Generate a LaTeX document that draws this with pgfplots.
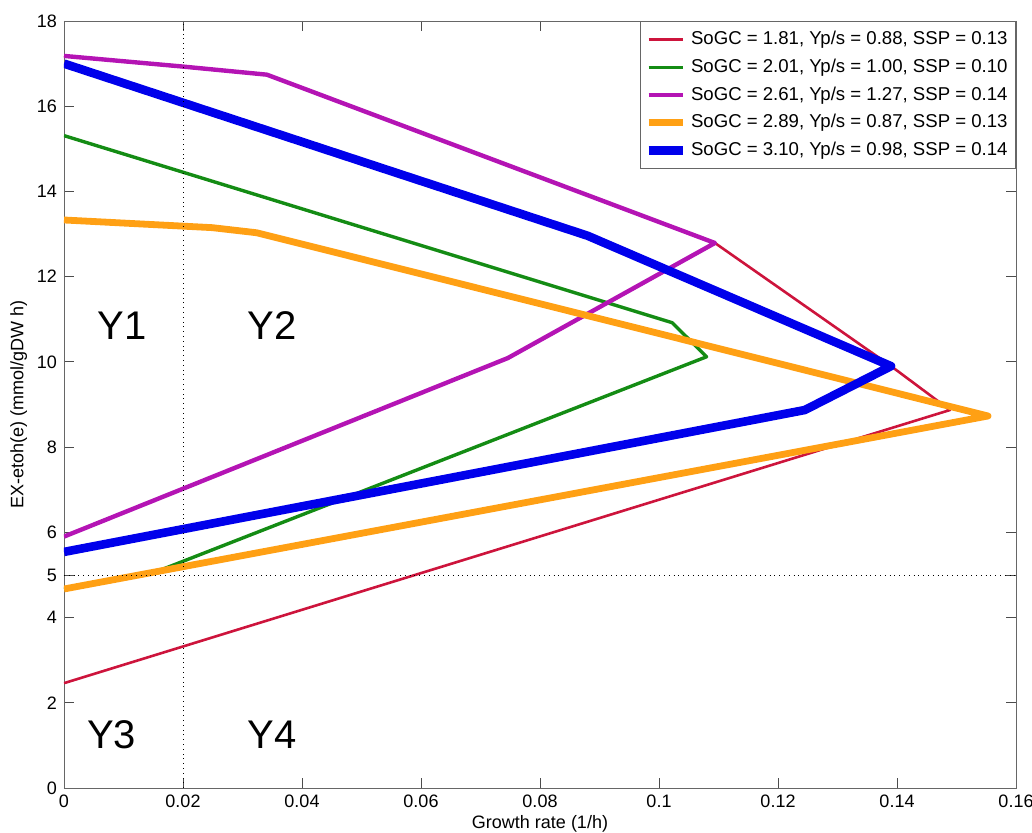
\documentclass[border=0pt]{standalone}
\usepackage{pgfplots}
\pgfplotsset{compat=1.18}
\usepackage{fontspec}
\setmainfont{Liberation Sans}
\definecolor{cred}{RGB}{205,20,60}
\definecolor{cgreen}{RGB}{20,140,20}
\definecolor{cpurple}{RGB}{180,20,180}
\definecolor{corange}{RGB}{255,160,20}
\definecolor{cblue}{RGB}{0,0,235}
\begin{document}
\begin{tikzpicture}
\begin{axis}[
  scale only axis,
  width=476pt, height=383.5pt,
  xmin=0, xmax=0.16, ymin=0, ymax=18,
  xtick={0,0.02,...,0.16},
  xticklabels={0,0.02,0.04,0.06,0.08,0.1,0.12,0.14,0.16},
  ytick={0,2,4,5,6,8,10,12,14,16,18},
  tick align=inside,
  tick style={black!70, thin},
  major tick length=5pt,
  axis line style={black!60},
  /pgf/number format/assume math mode=true,
  ticklabel style={font=\fontsize{9}{10}\selectfont},
  xlabel={Growth rate (1/h)},
  ylabel={EX-etoh(e) (mmol/gDW h)},
  label style={font=\fontsize{9}{10}\selectfont},
  xlabel style={yshift=3pt},
  ylabel style={yshift=-2pt},
  legend style={at={(1,1)}, anchor=north east, font=\fontsize{9.3}{11}\selectfont,
    draw=black!60, row sep=1.6pt, inner xsep=2pt, inner ysep=3pt},
  legend cell align=left,
  every axis plot/.append style={line join=round},
  clip=true,
]
\addplot[cred, line width=1.3pt] coordinates {
 (0,2.46) (0.1489,8.87) (0.139,9.9) (0.1094,12.79) (0.0341,16.74) (0,17.18)};
\addlegendentry{SoGC = 1.81, Yp/s = 0.88, SSP = 0.13}
\addplot[cgreen, line width=1.7pt] coordinates {
 (0,4.67) (0.0156,5.08) (0.108,10.12) (0.1022,10.92) (0,15.31)};
\addlegendentry{SoGC = 2.01, Yp/s = 1.00, SSP = 0.10}
\addplot[cpurple, line width=2.2pt] coordinates {
 (0,5.9) (0.0746,10.09) (0.1094,12.79) (0.0341,16.74) (0.02,16.93) (0,17.18)};
\addlegendentry{SoGC = 2.61, Yp/s = 1.27, SSP = 0.14}
\addplot[corange, line width=3.4pt] coordinates {
 (0,4.67) (0.1553,8.73) (0.0324,13.03) (0.0249,13.15) (0,13.33)};
\addlegendentry{SoGC = 2.89, Yp/s = 0.87, SSP = 0.13}
\addplot[cblue, line width=4.3pt] coordinates {
 (0,5.54) (0.1245,8.87) (0.139,9.9) (0.088,12.96) (0,17.0)};
\addlegendentry{SoGC = 3.10, Yp/s = 0.98, SSP = 0.14}
\draw[black, dotted, thin] (axis cs:0.02,0) -- (axis cs:0.02,18);
\draw[black, dotted, thin] (axis cs:0,5) -- (axis cs:0.16,5);
\node[font=\fontsize{20}{22}\selectfont] at (axis cs:0.0098,10.85) {Y1};
\node[font=\fontsize{20}{22}\selectfont] at (axis cs:0.035,10.85) {Y2};
\node[font=\fontsize{20}{22}\selectfont] at (axis cs:0.008,1.24) {Y3};
\node[font=\fontsize{20}{22}\selectfont] at (axis cs:0.035,1.24) {Y4};
\end{axis}
\pgfresetboundingbox
\path ([shift={(-32pt,-22.5pt)}]current axis.south west) rectangle ([shift={(8pt,10.5pt)}]current axis.north east);
\end{tikzpicture}
\end{document}
